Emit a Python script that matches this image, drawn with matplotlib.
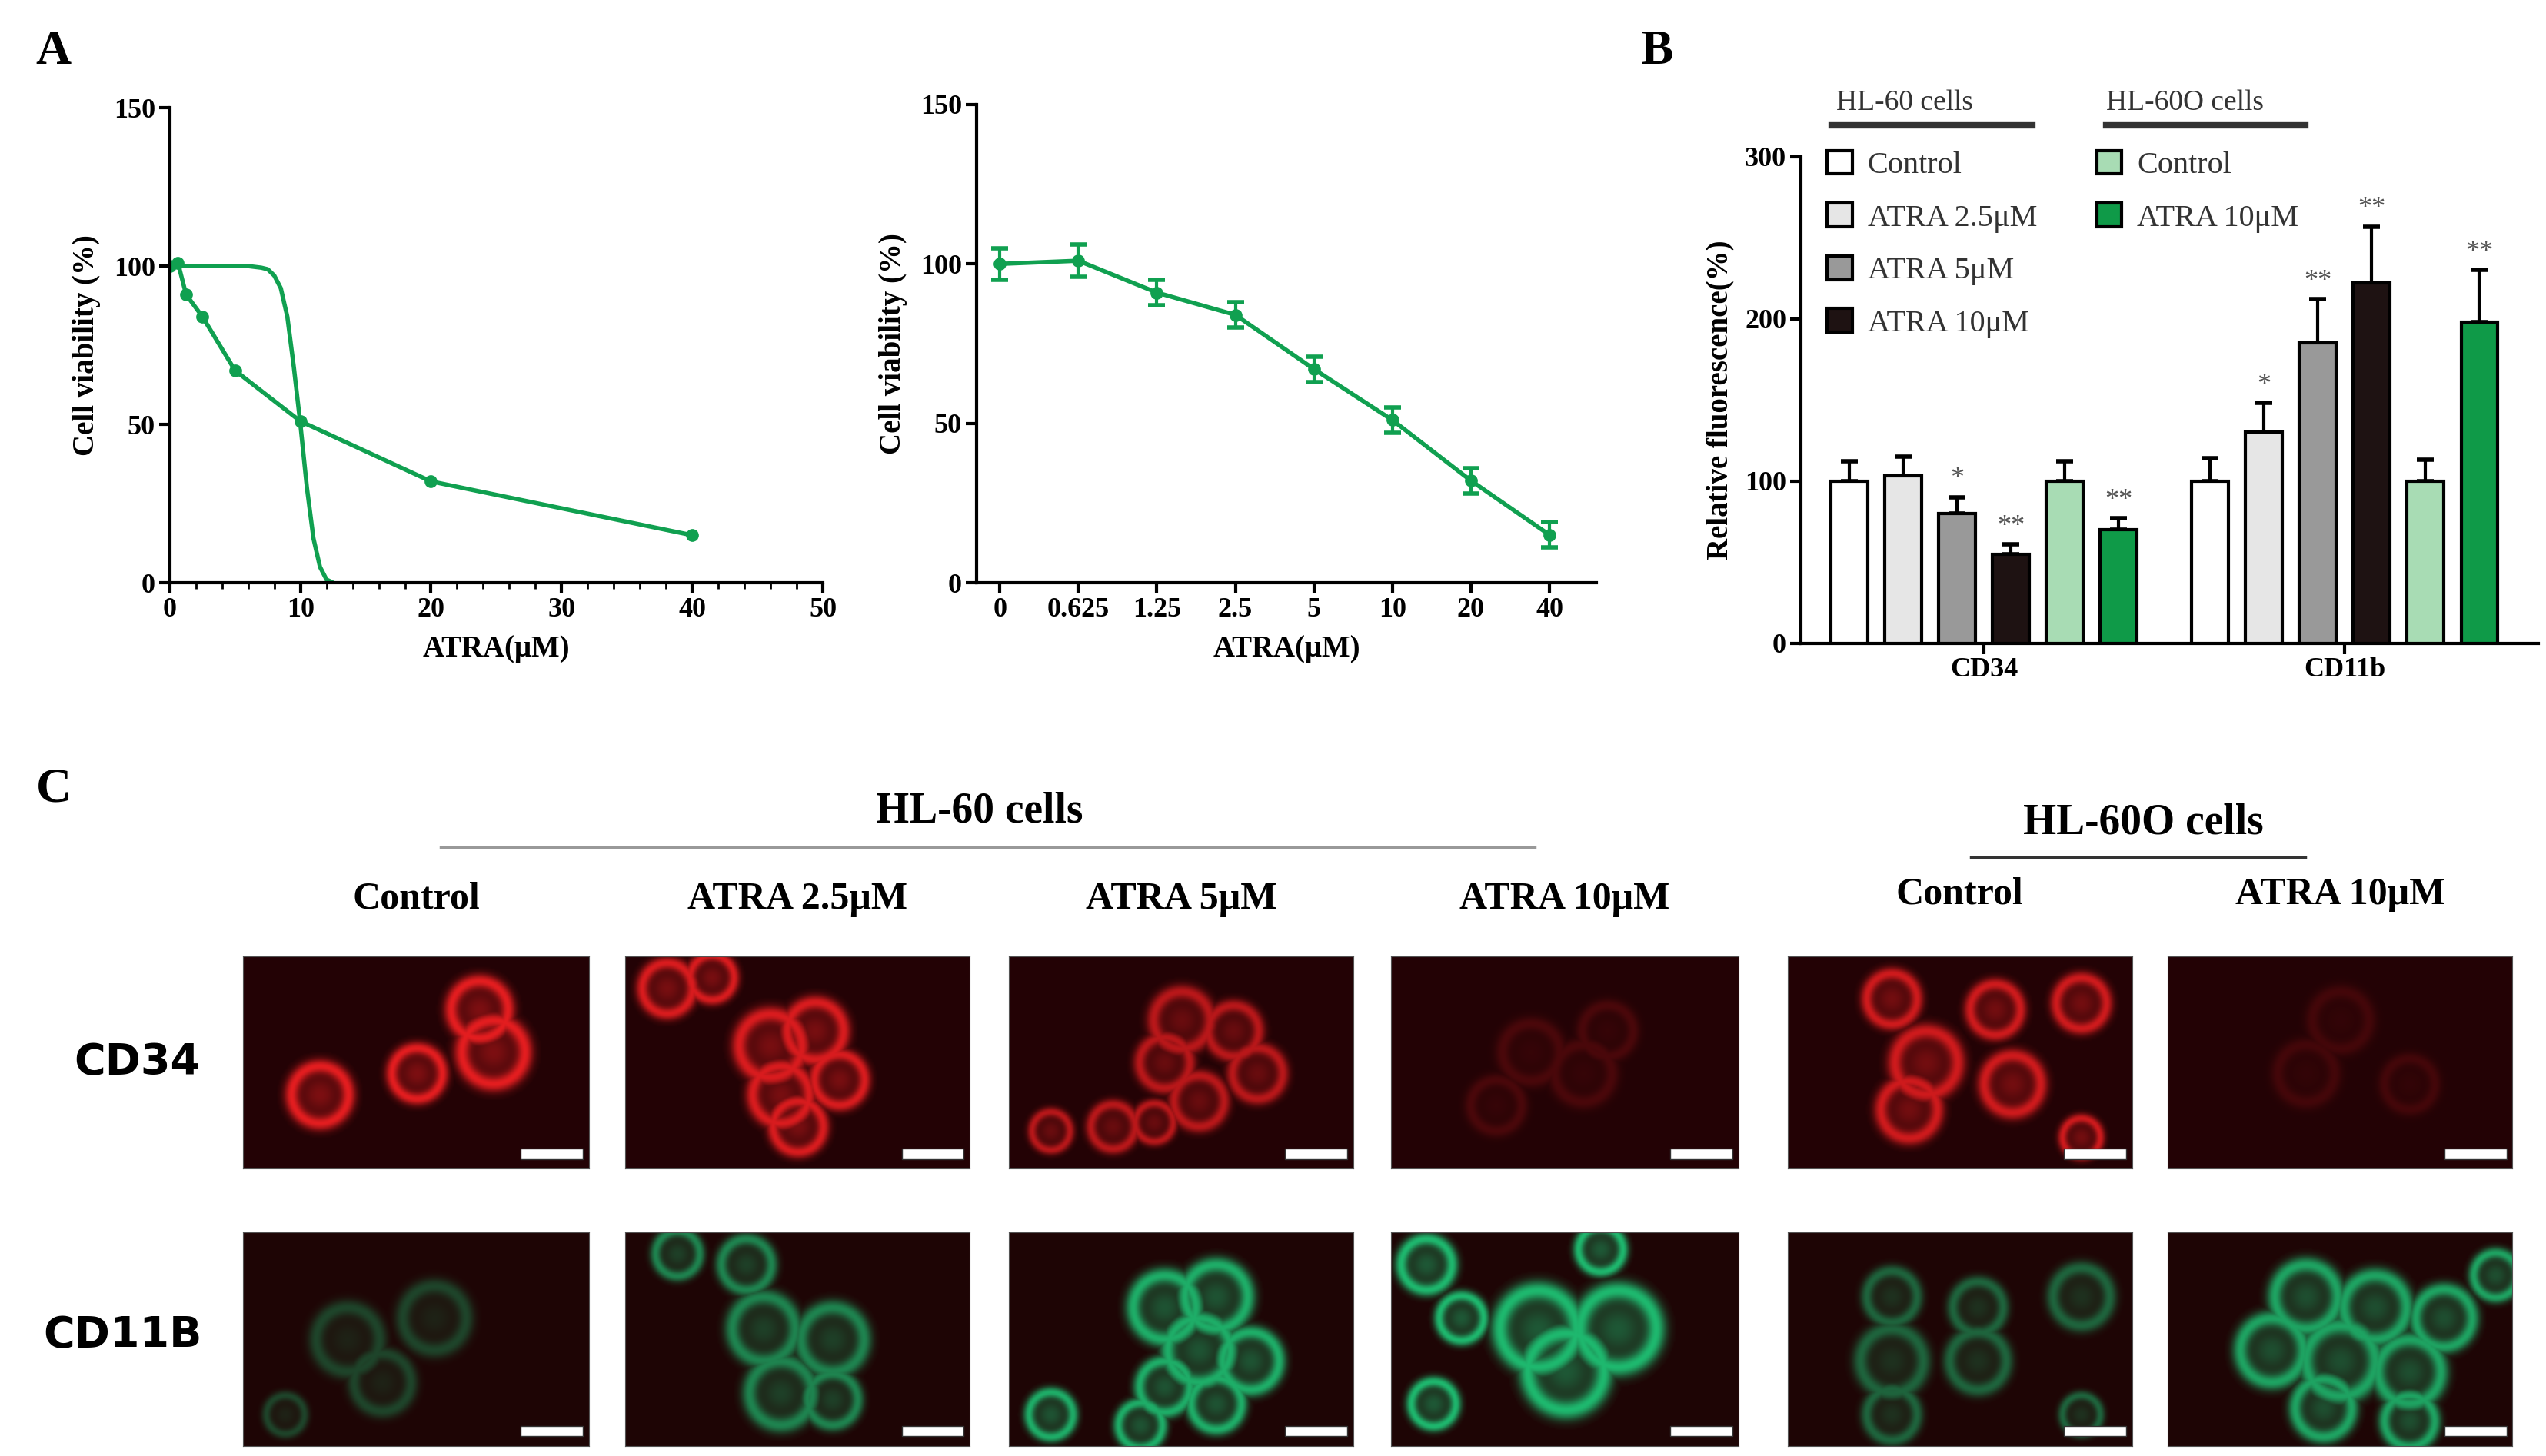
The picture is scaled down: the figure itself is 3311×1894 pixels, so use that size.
import numpy as np
import matplotlib
matplotlib.use("Agg")
import matplotlib.pyplot as plt
from matplotlib.patches import Patch

plt.rcParams['font.family'] = ['Liberation Serif', 'DejaVu Serif']

# ---------------- data ----------------
atra_conc = [0, 0.625, 1.25, 2.5, 5, 10, 20, 40]
atra_labels = ['0', '0.625', '1.25', '2.5', '5', '10', '20', '40']
viability = [100, 101, 91, 84, 67, 51, 32, 15]
viability_err = [5, 5, 4, 4, 4, 4, 4, 4]
fit_x = [0, 4, 6, 7, 7.5, 8, 8.5, 9, 9.5, 10, 10.5, 11, 11.5, 12, 12.5]
fit_y = [100, 100, 100, 99.5, 99, 97, 93, 84, 68, 50, 30, 14, 5, 1, 0]

groups = ['CD34', 'CD11b']
series = ['Control', 'ATRA 2.5μM', 'ATRA 5μM', 'ATRA 10μM', 'Control', 'ATRA 10μM']
cd34_vals = [100, 103, 80, 55, 100, 70]
cd34_err = [12, 12, 10, 6, 12, 7]
cd34_sig = ['', '', '*', '**', '', '**']
cd11b_vals = [100, 130, 185, 222, 100, 198]
cd11b_err = [14, 18, 27, 35, 13, 32]
cd11b_sig = ['', '*', '**', '**', '', '**']
bar_colors = ['white', '#e6e6e6', '#999999', '#1e1212', '#a8dcb4', '#0f9a48']

col_titles = ['Control', 'ATRA 2.5μM', 'ATRA 5μM', 'ATRA 10μM', 'Control', 'ATRA 10μM']
row_titles = ['CD34', 'CD11B']

GREEN = '#10a050'
W, H = 1560.0, 892.0
fig = plt.figure(figsize=(33.12, 18.94), dpi=100)


def ax_at(l, t, r, b):
    return fig.add_axes([l / W, 1 - b / H, (r - l) / W, (b - t) / H])


def T(x, y, s, **kw):
    fig.text(x / W, 1 - y / H, s, **kw)


def style(ax):
    for s in ['top', 'right']:
        ax.spines[s].set_visible(False)
    for s in ['left', 'bottom']:
        ax.spines[s].set_linewidth(3)
    ax.tick_params(width=3, length=10, labelsize=26)
    for lab in ax.get_xticklabels() + ax.get_yticklabels():
        lab.set_fontweight('bold')


# ---------- A left ----------
ax1 = ax_at(104, 66, 504, 357)
ax1.plot(fit_x, fit_y, color=GREEN, lw=4)
ax1.plot(atra_conc, viability, color=GREEN, lw=4, marker='o', ms=11)
ax1.set_xlim(0, 50)
ax1.set_ylim(0, 150)
ax1.set_xticks([0, 10, 20, 30, 40, 50])
ax1.set_xticks(np.arange(0, 51, 2), minor=True)
ax1.set_yticks([0, 50, 100, 150])
ax1.tick_params(which='minor', width=2, length=6)
style(ax1)
ax1.set_xlabel('ATRA(μM)', fontsize=28, fontweight='bold', labelpad=12)
ax1.set_ylabel('Cell viability (%)', fontsize=28, fontweight='bold', labelpad=12)

# ---------- A right ----------
ax2 = ax_at(598, 64, 978, 357)
xi = np.arange(len(atra_conc))
ax2.errorbar(xi, viability, yerr=viability_err, color=GREEN, lw=4, marker='o',
             ms=11, capsize=8, capthick=4, elinewidth=3)
ax2.set_xlim(-0.3, 7.6)
ax2.set_ylim(0, 150)
ax2.set_xticks(xi)
ax2.set_xticklabels(atra_labels)
ax2.set_yticks([0, 50, 100, 150])
style(ax2)
ax2.set_xlabel('ATRA(μM)', fontsize=28, fontweight='bold', labelpad=12)
ax2.set_ylabel('Cell viability (%)', fontsize=28, fontweight='bold', labelpad=12)

# ---------- B ----------
ax3 = ax_at(1103, 96, 1555, 394)
off = 6.7
pos1 = np.arange(6)
pos2 = pos1 + off
for pos, vals, errs, sigs in [(pos1, cd34_vals, cd34_err, cd34_sig),
                              (pos2, cd11b_vals, cd11b_err, cd11b_sig)]:
    ax3.bar(pos, vals, width=0.68, color=bar_colors, edgecolor='black', lw=3, zorder=3)
    ax3.errorbar(pos, vals, yerr=[np.zeros(6), errs], fmt='none', ecolor='black',
                 elinewidth=3, capsize=8, capthick=4, zorder=2)
    for p, v, e, s in zip(pos, vals, errs, sigs):
        if s:
            ax3.text(p, v + e + 3, s, ha='center', va='bottom', fontsize=26, color='#555')
ax3.set_xlim(-0.9, 12.8)
ax3.set_ylim(0, 300)
ax3.set_yticks([0, 100, 200, 300])
ax3.set_xticks([2.5, 2.5 + off])
ax3.set_xticklabels(groups)
ax3.tick_params(axis='x', length=0)
style(ax3)
ax3.set_ylabel('Relative fluorescence(%)', fontsize=28, fontweight='bold', labelpad=10)
h1 = [Patch(facecolor=c, edgecolor='black', lw=3) for c in bar_colors[:4]]
h2 = [Patch(facecolor=c, edgecolor='black', lw=3) for c in bar_colors[4:]]
lg1 = ax3.legend(h1, series[:4], loc='upper left', bbox_to_anchor=(0.015, 1.045),
                 frameon=False, fontsize=29, handlelength=0.8, handleheight=0.8,
                 labelspacing=0.75, handletextpad=0.5, labelcolor='#333', borderpad=0)
ax3.add_artist(lg1)
ax3.legend(h2, series[4:], loc='upper left', bbox_to_anchor=(0.38, 1.045),
           frameon=False, fontsize=29, handlelength=0.8, handleheight=0.8,
           labelspacing=0.75, handletextpad=0.5, labelcolor='#333', borderpad=0)
T(1125, 63, 'HL-60 cells', fontsize=27, color='#333', va='center')
T(1290, 63, 'HL-60O cells', fontsize=27, color='#333', va='center')
fig.add_artist(plt.Line2D([1122 / W, 1245 / W], [1 - 77 / H] * 2, color='#333', lw=6))
fig.add_artist(plt.Line2D([1290 / W, 1412 / W], [1 - 77 / H] * 2, color='#333', lw=6))

# ---------- panel letters ----------
T(22, 32, 'A', fontsize=46, fontweight='bold', va='center')
T(1005, 32, 'B', fontsize=46, fontweight='bold', va='center')
T(22, 484, 'C', fontsize=46, fontweight='bold', va='center')

# ---------- C ----------
T(600, 497, 'HL-60 cells', fontsize=40, fontweight='bold', ha='center', va='center')
T(1313, 504, 'HL-60O cells', fontsize=40, fontweight='bold', ha='center', va='center')
fig.add_artist(plt.Line2D([270 / W, 940 / W], [1 - 519 / H] * 2, color='#999', lw=2.5))
fig.add_artist(plt.Line2D([1207 / W, 1412 / W], [1 - 525 / H] * 2, color='#333', lw=2.5))

cols_x = [(149, 361), (383, 594), (618, 829), (852, 1065), (1095, 1306), (1328, 1539)]
rows_y = [(586, 716), (755, 886)]
title_y = [551, 551, 551, 551, 548, 548]
for (x0, x1), t, ty in zip(cols_x, col_titles, title_y):
    T((x0 + x1) / 2, ty, t, fontsize=36, fontweight='bold', ha='center', va='center')
T(84, 651, row_titles[0], fontsize=40, fontweight='bold', ha='center', va='center',
  family='DejaVu Sans')
T(75, 818, row_titles[1], fontsize=40, fontweight='bold', ha='center', va='center',
  family='DejaVu Sans')

cells = [
    [[(0.68, 0.25, 0.09), (0.72, 0.45, 0.1), (0.5, 0.55, 0.08), (0.22, 0.65, 0.09)],
     [(0.12, 0.15, 0.08), (0.25, 0.1, 0.07), (0.42, 0.42, 0.1), (0.55, 0.35, 0.09),
      (0.45, 0.65, 0.09), (0.62, 0.58, 0.08), (0.5, 0.8, 0.08)],
     [(0.5, 0.3, 0.09), (0.65, 0.35, 0.08), (0.45, 0.5, 0.08), (0.72, 0.55, 0.08),
      (0.55, 0.68, 0.08), (0.3, 0.8, 0.07), (0.12, 0.82, 0.06), (0.42, 0.78, 0.06)],
     [(0.4, 0.45, 0.09), (0.55, 0.55, 0.09), (0.62, 0.35, 0.08), (0.3, 0.7, 0.08)],
     [(0.3, 0.2, 0.08), (0.6, 0.25, 0.08), (0.85, 0.22, 0.08), (0.4, 0.5, 0.1),
      (0.65, 0.6, 0.09), (0.35, 0.72, 0.09), (0.85, 0.85, 0.06)],
     [(0.5, 0.3, 0.09), (0.4, 0.55, 0.09), (0.7, 0.6, 0.08)]],
    [[(0.3, 0.5, 0.1), (0.55, 0.4, 0.1), (0.4, 0.7, 0.09), (0.12, 0.85, 0.06)],
     [(0.15, 0.1, 0.07), (0.35, 0.15, 0.08), (0.4, 0.45, 0.1), (0.6, 0.5, 0.1),
      (0.45, 0.75, 0.1), (0.6, 0.78, 0.08)],
     [(0.45, 0.35, 0.1), (0.6, 0.3, 0.1), (0.55, 0.55, 0.1), (0.7, 0.6, 0.09),
      (0.45, 0.72, 0.08), (0.6, 0.8, 0.08), (0.12, 0.85, 0.07), (0.38, 0.9, 0.07)],
     [(0.1, 0.15, 0.08), (0.2, 0.4, 0.07), (0.42, 0.45, 0.12), (0.65, 0.45, 0.12),
      (0.5, 0.65, 0.12), (0.12, 0.8, 0.07), (0.6, 0.08, 0.07)],
     [(0.3, 0.3, 0.08), (0.55, 0.35, 0.08), (0.85, 0.3, 0.09), (0.3, 0.6, 0.1),
      (0.55, 0.6, 0.09), (0.3, 0.85, 0.08), (0.85, 0.85, 0.06)],
     [(0.4, 0.3, 0.1), (0.6, 0.35, 0.1), (0.8, 0.4, 0.09), (0.3, 0.55, 0.1),
      (0.5, 0.6, 0.11), (0.7, 0.65, 0.1), (0.45, 0.82, 0.09), (0.7, 0.88, 0.08),
      (0.95, 0.2, 0.07)]],
]
intens = [[0.9, 0.85, 0.7, 0.18, 0.8, 0.15], [0.3, 0.6, 0.8, 0.85, 0.45, 0.75]]
yy, xx = np.mgrid[0:130, 0:212]
for r, (y0, y1) in enumerate(rows_y):
    for c, (x0, x1) in enumerate(cols_x):
        a = ax_at(x0, y0, x1, y1)
        hpx, wpx = 130, 212
        img = np.zeros((hpx, wpx))
        for (cx, cy, rad) in cells[r][c]:
            d = np.sqrt(((xx - cx * wpx)) ** 2 + ((yy - cy * hpx)) ** 2) / (rad * wpx * 1.15)
            ring = np.exp(-((d - 0.8) / 0.2) ** 2) * 0.9 + np.exp(-(d / 0.6) ** 2) * 0.45
            img = np.maximum(img, ring * (d < 1.2))
        img *= intens[r][c]
        rgb = np.zeros((hpx, wpx, 3))
        if r == 0:
            rgb[..., 0] = 0.14 + 0.86 * img
            rgb[..., 1] = 0.01 + 0.12 * img
            rgb[..., 2] = 0.02 + 0.12 * img
        else:
            rgb[..., 0] = 0.12
            rgb[..., 1] = 0.02 + 0.85 * img
            rgb[..., 2] = 0.02 + 0.5 * img
        a.imshow(np.clip(rgb, 0, 1), aspect='auto', interpolation='bilinear')
        a.set_xticks([]); a.set_yticks([])
        for s in a.spines.values():
            s.set_color('#555')
        a.add_patch(plt.Rectangle((0.8 * wpx, 0.9 * hpx), 0.18 * wpx, 0.05 * hpx,
                                  facecolor='white', edgecolor='#333', lw=1))

fig.savefig('out.png', dpi=100, facecolor='white')
